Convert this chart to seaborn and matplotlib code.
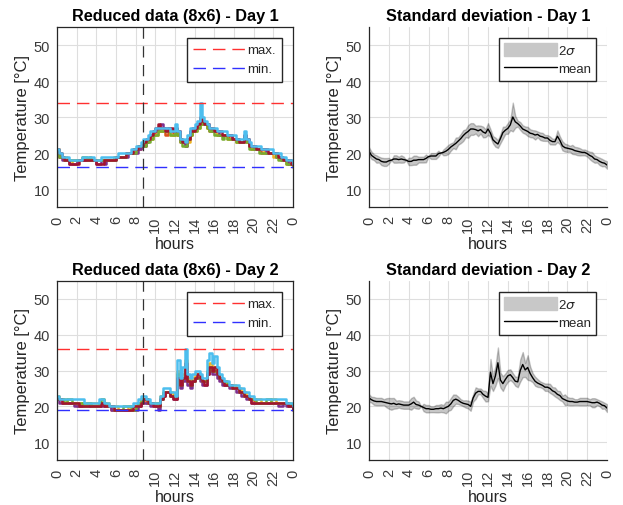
import numpy as np
import pandas as pd
import matplotlib
matplotlib.use("Agg")
import matplotlib.pyplot as plt
import seaborn as sns
from matplotlib.lines import Line2D
from matplotlib.patches import Patch

# ---------------- data ----------------
hours = np.arange(97) * 0.25           # 0 .. 24 h, 15-min samples
hour_ticks = list(range(0, 25, 2))
hour_tick_labels = ["0", "2", "4", "6", "8", "10", "12", "14", "16", "18", "20", "22", "0"]
temp_ticks = [10, 20, 30, 40, 50]
event_hour = 8.7

sensor_names = ["s1", "s2", "s3", "s4", "s5", "s6"]
sensor_colors = ["#D95319", "#EDB120", "#7E2F8E", "#77AC30", "#A2142F", "#4DBEEE"]

day1_s1 = [20,19,19,18, 18,18,18,18, 18,18,18,18, 18,18,18,18, 18,18,18,18, 18,18,18,19,
           19,19,19,19, 20,20,20,20, 21,21,22,23, 23,24,25,25, 26,26,26,26, 25,26,26,25,
           26,25,23,23, 22,24,25,26, 27,28,29,28, 28,27,26,26, 26,25,25,25, 25,25,24,24,
           24,23,23,23, 24,23,22,21, 21,21,21,20, 20,20,20,20, 20,19,19,18, 18,18,17,17, 17]
day1_s2 = [21,19,19,19, 18,18,17,17, 18,18,18,18, 18,18,18,18, 18,18,18,18, 18,18,18,19,
           19,19,19,19, 20,20,20,21, 21,22,22,22, 23,24,24,25, 25,26,26,26, 26,26,25,25,
           26,25,24,23, 23,23,25,26, 26,27,29,28, 28,27,27,26, 26,25,25,25, 25,24,24,24,
           24,23,23,23, 24,23,22,21, 21,21,21,21, 20,20,20,20, 19,19,19,18, 18,17,17,17, 16]
day1_s3 = [20,19,18,18, 18,17,17,17, 18,18,18,18, 18,18,18,18, 17,17,18,17, 18,18,18,18,
           19,19,19,19, 19,20,20,20, 20,21,22,22, 23,24,25,26, 26,27,28,27, 27,27,26,26,
           27,26,24,23, 22,24,26,27, 27,28,29,29, 28,28,27,26, 26,26,25,25, 25,25,25,24,
           24,24,23,23, 25,24,22,22, 21,21,21,21, 21,20,20,20, 20,19,19,18, 18,18,17,17, 17]
day1_s4 = [20,19,19,18, 18,18,18,18, 18,18,19,19, 18,19,18,18, 18,18,18,18, 18,18,18,18,
           19,19,19,19, 20,20,20,20, 21,22,22,22, 23,23,24,25, 25,26,26,26, 26,26,25,25,
           26,25,23,22, 22,24,25,26, 26,27,29,28, 28,27,26,26, 25,25,25,24, 25,24,24,24,
           24,23,23,23, 24,23,21,21, 21,21,20,20, 20,20,20,20, 20,19,18,18, 18,17,17,17, 16]
day1_s5 = [21,20,19,18, 18,17,17,17, 17,18,18,18, 18,18,18,18, 17,17,17,18, 18,18,18,18,
           19,19,19,19, 20,20,20,21, 21,22,22,23, 24,24,25,26, 27,28,27,27, 26,27,27,26,
           27,26,24,23, 23,24,26,26, 27,28,30,29, 28,28,27,27, 26,26,26,25, 25,25,25,24,
           24,24,23,23, 25,24,22,22, 22,21,21,21, 21,21,20,20, 20,20,19,19, 18,18,18,17, 17]
day1_s6 = [21,20,19,19, 19,18,18,18, 18,18,19,19, 19,19,19,18, 18,18,19,19, 19,19,19,19,
           19,20,20,20, 20,20,21,21, 22,22,23,24, 24,25,26,26, 27,27,27,27, 27,27,26,26,
           28,26,24,24, 23,25,27,27, 28,29,34,30, 29,28,27,27, 27,26,26,26, 26,25,25,25,
           25,24,24,24, 26,24,23,22, 22,22,22,21, 21,21,21,21, 20,20,20,19, 19,18,18,18, 17]

day2_s1 = [22,22,21,21, 21,21,21,21, 20,20,21,21, 21,20,20,20, 20,20,21,20, 20,20,19,19,
           19,19,19,19, 19,19,19,19, 20,20,21,22, 21,21,21,21, 20,20,22,23, 24,24,23,23,
           22,29,26,28, 31,27,26,27, 28,29,28,27, 27,29,31,30, 30,29,28,27, 26,26,26,25,
           25,25,24,24, 23,23,22,22, 21,21,21,21, 21,21,21,21, 21,21,21,21, 21,21,20,20, 19]
day2_s2 = [23,22,22,22, 21,21,21,21, 21,21,21,21, 21,21,21,21, 21,21,21,21, 21,20,20,20,
           20,19,19,19, 19,20,20,20, 20,21,22,22, 22,21,21,21, 21,20,23,24, 24,24,24,23,
           23,30,27,29, 33,28,27,28, 29,29,28,27, 27,30,32,30, 31,29,28,27, 27,26,26,26,
           26,25,25,24, 24,23,22,22, 22,22,22,21, 21,21,21,22, 22,21,21,21, 21,21,20,20, 20]
day2_s3 = [22,21,21,21, 21,21,21,20, 20,20,20,20, 20,20,20,20, 20,20,20,20, 20,20,19,19,
           19,19,19,19, 19,19,19,19, 19,20,21,21, 21,21,20,20, 20,19,22,23, 24,24,23,22,
           22,28,25,27, 30,26,25,27, 28,28,27,26, 26,29,30,29, 29,28,27,26, 26,26,25,25,
           25,24,24,23, 23,22,22,21, 21,21,21,21, 21,21,21,21, 21,21,20,20, 21,20,20,20, 19]
day2_s4 = [22,22,22,21, 22,22,21,21, 21,21,21,20, 21,21,20,20, 20,21,22,21, 20,20,20,19,
           19,19,19,20, 20,20,19,19, 20,21,22,22, 22,21,21,21, 21,20,22,24, 24,24,23,23,
           23,29,26,28, 31,27,26,27, 28,28,28,27, 27,30,31,30, 30,29,28,27, 27,26,26,25,
           25,25,24,24, 23,23,22,22, 22,21,21,21, 21,22,22,21, 21,21,21,21, 21,21,21,20, 20]
day2_s5 = [22,22,21,21, 21,21,21,21, 21,20,20,20, 20,20,20,20, 20,20,21,20, 20,20,20,19,
           19,19,19,19, 19,19,19,20, 20,20,21,22, 22,21,21,20, 20,20,22,23, 24,24,23,22,
           22,28,26,28, 32,27,26,27, 28,29,28,27, 26,29,31,30, 31,29,28,27, 26,26,26,25,
           25,25,24,24, 23,23,22,21, 21,21,21,21, 21,21,21,21, 21,21,21,21, 21,21,20,20, 19]
day2_s6 = [23,22,22,22, 22,22,22,22, 22,22,22,21, 21,21,21,21, 21,22,22,21, 21,20,20,20,
           20,20,20,20, 20,20,20,21, 21,22,23,23, 22,22,21,21, 21,21,23,25, 25,25,24,24,
           23,33,28,31, 36,29,28,29, 30,30,29,28, 28,33,35,32, 34,31,29,28, 27,27,26,26,
           26,26,25,25, 24,24,23,23, 22,22,22,22, 22,22,22,22, 22,22,22,22, 22,21,21,21, 20]

day1_series = [day1_s1, day1_s2, day1_s3, day1_s4, day1_s5, day1_s6]
day2_series = [day2_s1, day2_s2, day2_s3, day2_s4, day2_s5, day2_s6]


def long_frame(series_list):
    frames = []
    for name, vals in zip(sensor_names, series_list):
        frames.append(pd.DataFrame({"hour": hours, "temp": vals, "sensor": name}))
    return pd.concat(frames, ignore_index=True)


days = [long_frame(day1_series), long_frame(day2_series)]

# ---------------- style ----------------
sns.set_theme(style="whitegrid")
plt.rcParams["font.family"] = ["Liberation Sans", "DejaVu Sans"]
text_col = "#262626"
tick_col = "#3a3a3a"
plt.rcParams.update({
    "axes.edgecolor": text_col,
    "axes.labelcolor": text_col,
    "xtick.color": tick_col,
    "ytick.color": tick_col,
    "grid.color": "#dedede",
    "grid.linewidth": 0.8,
    "axes.linewidth": 0.9,
})

fig = plt.figure(figsize=(6.23, 5.06), dpi=100)
W, H = 623, 506


def add_ax(l, t, w, h):
    return fig.add_axes([l / W, 1 - (t + h) / H, w / W, h / H])


axes_pos = {
    (0, 0): (57, 28, 236, 180),
    (0, 1): (369, 28, 238, 180),
    (1, 0): (57, 282, 236, 179),
    (1, 1): (369, 282, 238, 179),
}

dash_style = (0, (9, 5))


def style_axis(ax, full_box):
    ax.set_xlim(0, 24)
    ax.set_ylim(5, 55)
    ax.set_xticks(hour_ticks)
    ax.set_xticklabels(hour_tick_labels, rotation=90, fontsize=10.5)
    ax.set_yticks(temp_ticks)
    ax.tick_params(axis="y", labelsize=10.5, direction="in", length=3, pad=5)
    ax.tick_params(axis="x", direction="in", length=3, pad=6)
    ax.grid(True, color="#dedede", linewidth=0.8)
    ax.set_xlabel("hours", fontsize=11.5, labelpad=3)
    ax.set_ylabel("Temperature [°C]", fontsize=12, labelpad=3)
    for side in ["top", "right"]:
        ax.spines[side].set_visible(full_box)
    for sp in ax.spines.values():
        sp.set_color(text_col)
        sp.set_linewidth(0.9)


for d, df in enumerate(days):
    # ---- reduced data panel ----
    ax = add_ax(*axes_pos[(d, 0)])
    sns.lineplot(data=df, x="hour", y="temp", hue="sensor", palette=sensor_colors,
                 estimator=None, drawstyle="steps-post", linewidth=1.8,
                 legend=False, ax=ax)
    tmax = df["temp"].max()
    tmin = df["temp"].min()
    ax.axhline(tmax, color="#ff3030", ls=dash_style, lw=1.0)
    ax.axhline(tmin, color="#3030ff", ls=dash_style, lw=1.0)
    ax.axvline(event_hour, color="#333333", ls=(0, (9, 6)), lw=0.9)
    style_axis(ax, True)
    ax.set_title(f"Reduced data (8x6) - Day {d + 1}", fontsize=11.7,
                 fontweight="bold", color="black", pad=5)
    handles = [Line2D([], [], color="#ff3030", ls=dash_style, lw=1.0),
               Line2D([], [], color="#3030ff", ls=dash_style, lw=1.0)]
    leg = ax.legend(handles, ["max.", "min."], loc="upper right", fontsize=9.5,
                    handlelength=4.0, handletextpad=0.1, borderaxespad=0.8,
                    fancybox=False, framealpha=1, edgecolor=text_col,
                    borderpad=0.5, labelspacing=0.5)
    leg.get_frame().set_linewidth(1.0)

    # ---- standard deviation panel ----
    ax = add_ax(*axes_pos[(d, 1)])
    sns.lineplot(data=df, x="hour", y="temp", errorbar=("sd", 2), color="black",
                 linewidth=1.0, err_kws={"alpha": 0.22}, ax=ax)
    style_axis(ax, False)
    ax.set_title(f"Standard deviation - Day {d + 1}", fontsize=11.7,
                 fontweight="bold", color="black", pad=5)
    handles = [Patch(facecolor="#c8c8c8", edgecolor="#c8c8c8"),
               Line2D([], [], color="black", lw=1.0)]
    leg = ax.legend(handles, ["2$\\sigma$", "mean"], loc="upper right", fontsize=9.5,
                    handlelength=4.0, handleheight=1.2, handletextpad=0.1,
                    borderaxespad=0.8, fancybox=False, framealpha=1,
                    edgecolor=text_col, borderpad=0.4, labelspacing=0.3)
    leg.get_frame().set_linewidth(1.0)

fig.savefig("out.png", dpi=100)
